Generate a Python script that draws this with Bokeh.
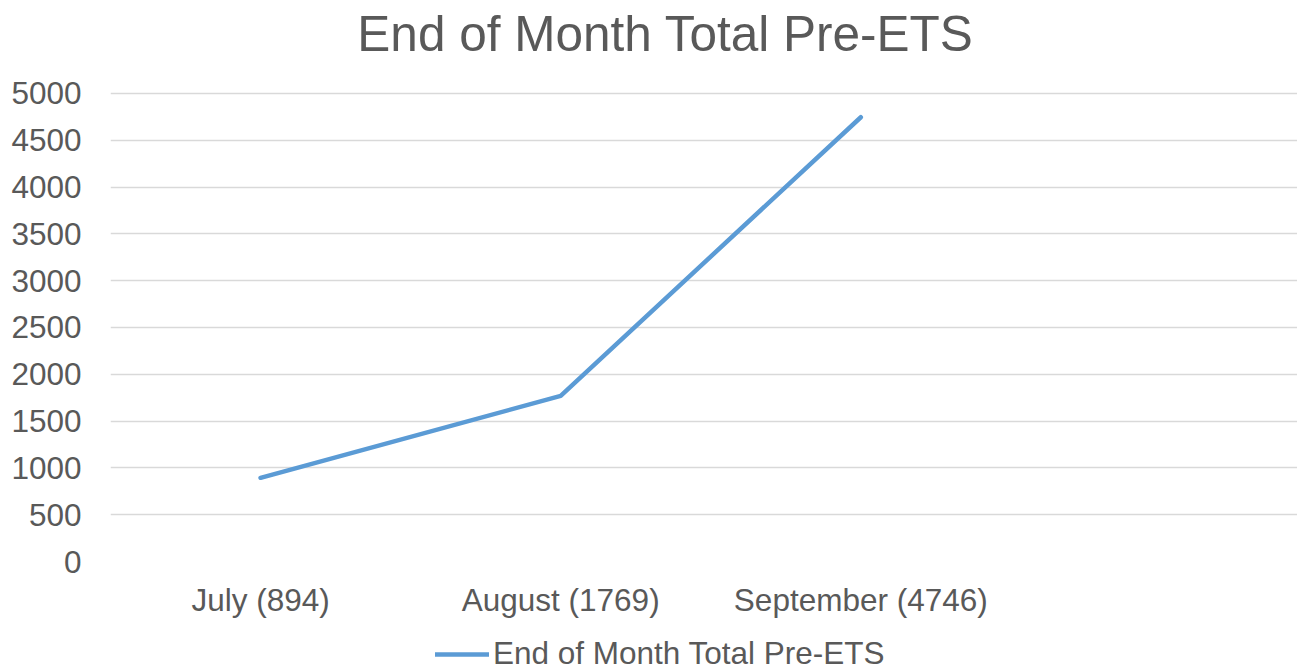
from bokeh.plotting import figure
from bokeh.models import Legend, LegendItem, FixedTicker, Range1d, Label
from bokeh.layouts import column
from bokeh.embed import file_html
from bokeh.resources import INLINE

categories = ["July (894)", "August (1769)", "September (4746)"]
values = [894, 1769, 4746]
y_ticks = list(range(0, 5001, 500))
series_name = "End of Month Total Pre-ETS"
chart_title = "End of Month Total Pre-ETS"

FONT = "Liberation Sans"
GREY = "#595959"
LINE_COLOR = "#5B9BD5"
W = 1297
LEFT = 110

x = [i + 0.5 for i in range(len(categories))]


def strip(height):
    f = figure(width=W, height=height, output_backend="svg", toolbar_location=None,
               x_range=Range1d(100, 101), y_range=Range1d(100, 101),
               x_axis_type=None, y_axis_type=None,
               min_border_left=LEFT, min_border_right=0, min_border_top=0,
               min_border_bottom=0)
    f.outline_line_color = None
    f.grid.grid_line_color = None
    return f


# title strip
pt = strip(60)
pt.add_layout(Label(x=555, y=27, x_units="screen", y_units="screen",
                    text=chart_title, text_align="center", text_baseline="alphabetic",
                    text_font=FONT, text_font_size="49.5px", text_color=GREY))

# main chart
p = figure(width=W, height=560, output_backend="svg", toolbar_location=None,
           x_range=Range1d(0, 3.955), y_range=Range1d(0, 5021),
           min_border_left=LEFT, min_border_right=0, min_border_top=31,
           min_border_bottom=59)
p.outline_line_color = None
p.xgrid.grid_line_color = None
p.ygrid.grid_line_color = "#D9D9D9"
p.ygrid.grid_line_width = 1.5

p.yaxis.ticker = FixedTicker(ticks=y_ticks)
p.xaxis.ticker = FixedTicker(ticks=x)
p.xaxis.major_label_overrides = {xx: c for xx, c in zip(x, categories)}

for ax in (p.xaxis, p.yaxis):
    ax.axis_line_color = None
    ax.major_tick_line_color = None
    ax.minor_tick_line_color = None
    ax.major_tick_in = 0
    ax.major_tick_out = 0
    ax.minor_tick_in = 0
    ax.minor_tick_out = 0
    ax.major_label_text_font = FONT
    ax.major_label_text_font_size = "31.5px"
    ax.major_label_text_color = GREY

p.yaxis.major_label_standoff = 29
p.xaxis.major_label_standoff = 20

p.line(x, values, line_color=LINE_COLOR, line_width=4.5,
       line_join="round", line_cap="round")

# legend strip (the series is drawn out of view here; only its legend entry shows)
pl = strip(52)
lr = pl.line(x, values, line_color=LINE_COLOR, line_width=4.5, line_cap="round")
legend = Legend(items=[LegendItem(label=series_name, renderers=[lr])],
                location=(325, 0), orientation="horizontal",
                padding=0, margin=0, spacing=0, label_standoff=4,
                glyph_width=54, glyph_height=30, label_height=30,
                border_line_color=None, background_fill_alpha=0,
                label_text_font=FONT, label_text_font_size="31.5px",
                label_text_color=GREY)
pl.add_layout(legend, "center")

open("out.html", "w").write(file_html(column(pt, p, pl), INLINE))
